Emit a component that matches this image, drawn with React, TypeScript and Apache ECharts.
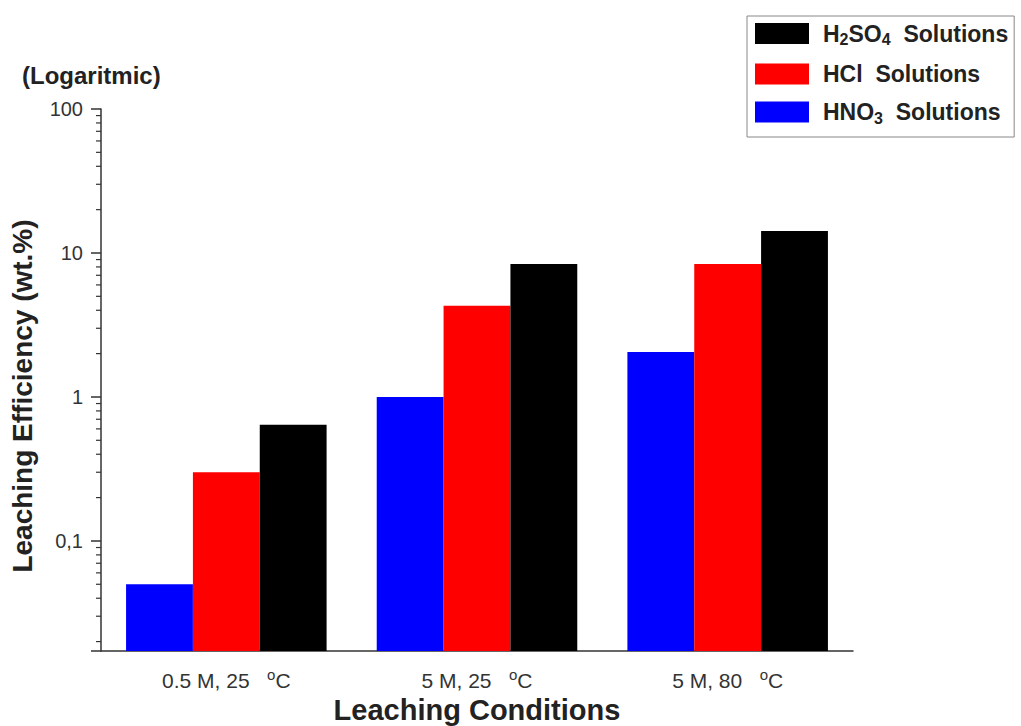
import React, { useEffect, useRef } from "react";
import * as echarts from "echarts";

const categories = ["0.5 M, 25", "5 M, 25", "5 M, 80"];
const hno3Values = [0.05, 1.0, 2.05];
const hclValues = [0.3, 4.3, 8.4];
const h2so4Values = [0.64, 8.4, 14.2];
const yMin = 0.0172;
const yMax = 100;
const majorTickLabels: Record<string, string> = { "100": "100", "10": "10", "1": "1", "0.1": "0,1" };
const minorTickValues = [
  0.02, 0.03, 0.04, 0.05, 0.06, 0.07, 0.08, 0.09,
  0.2, 0.3, 0.4, 0.5, 0.6, 0.7, 0.8, 0.9,
  2, 3, 4, 5, 6, 7, 8, 9,
  20, 30, 40, 50, 60, 70, 80, 90,
];
const seriesNames = ["HNO3 Solutions", "HCl Solutions", "H2SO4 Solutions"];
const legendOrder = ["H2SO4 Solutions", "HCl Solutions", "HNO3 Solutions"];
const legendLabels: Record<string, string> = {
  "H2SO4 Solutions": "H{sub|2}SO{sub|4}  Solutions",
  "HCl Solutions": "HCl  Solutions",
  "HNO3 Solutions": "HNO{sub|3}  Solutions",
};

const FONT = "'Liberation Sans', Arial, sans-serif";

export default function App() {
  const ref = useRef<HTMLDivElement>(null);
  useEffect(() => {
    if (!ref.current) return;
    const chart = echarts.init(ref.current, undefined, { renderer: "svg" });
    const option: any = {
      animation: false,
      backgroundColor: "#fff",
      textStyle: { fontFamily: FONT },
      graphic: [
        {
          type: "text",
          left: 22,
          top: 63,
          style: { text: "(Logaritmic)", font: `bold 24px ${FONT}`, fill: "#222" },
        },
        {
          type: "text",
          x: 22,
          y: 396,
          rotation: Math.PI / 2,
          style: {
            text: "Leaching Efficiency (wt.%)",
            font: `bold 28px ${FONT}`,
            fill: "#222",
            align: "center",
            verticalAlign: "middle",
          },
        },
      ],
      legend: {
        orient: "vertical",
        left: 747,
        top: 16,
        data: legendOrder,
        itemWidth: 54,
        itemHeight: 21,
        itemGap: 15,
        padding: [6, 6, 11, 8],
        borderColor: "#888",
        borderWidth: 1,
        icon: "rect",
        formatter: (name: string) => legendLabels[name],
        textStyle: {
          fontFamily: FONT,
          fontWeight: "bold",
          fontSize: 23,
          color: "#222",
          padding: [0, 0, 0, 9],
          rich: {
            sub: { fontSize: 16, fontWeight: "bold", color: "#222", padding: [12, 0, 0, 0], fontFamily: FONT },
          },
        },
      },
      grid: { left: 101, right: 168, top: 109, bottom: 75, containLabel: false, outerBoundsMode: "none" },
      xAxis: [
        {
          type: "category",
          data: categories,
          name: "Leaching Conditions",
          nameLocation: "middle",
          nameGap: 44,
          nameTextStyle: { fontFamily: FONT, fontWeight: "bold", fontSize: 29, color: "#222" },
          axisLine: { lineStyle: { color: "#333", width: 1.5 } },
          axisTick: { alignWithLabel: true, length: 8, lineStyle: { color: "#333", width: 1.5 } },
          axisLabel: {
            margin: 16,
            fontFamily: FONT,
            fontSize: 21,
            color: "#333",
            formatter: (v: string) => `${v}   {sup|o}C`,
            rich: { sup: { fontSize: 15, color: "#333", padding: [0, 0, 11, 0], fontFamily: FONT } },
          },
        },
        {
          type: "category",
          data: categories,
          position: "bottom",
          axisLine: { show: false },
          axisLabel: { show: false },
          axisTick: { alignWithLabel: false, length: 4, lineStyle: { color: "#333", width: 1.5 } },
        },
      ],
      yAxis: {
        type: "log",
        logBase: 10,
        min: yMin,
        max: yMax,
        startValue: yMin,
        splitLine: { show: false },
        axisLine: { show: true, lineStyle: { color: "#333", width: 1.5 } },
        axisTick: { show: true, length: 10, lineStyle: { color: "#333", width: 1.5 } },
        axisLabel: {
          margin: 18,
          fontFamily: FONT,
          fontSize: 20,
          color: "#333",
          formatter: (v: number) => {
            const key = String(Number(v.toPrecision(6)));
            return majorTickLabels[key] ?? "";
          },
        },
      },
      series: [
        {
          name: seriesNames[0],
          type: "bar",
          data: hno3Values,
          itemStyle: { color: "#0000ff" },
          barGap: "0%",
          barCategoryGap: "20%",
        },
        {
          name: seriesNames[1],
          type: "bar",
          data: hclValues,
          itemStyle: { color: "#ff0000" },
          barGap: "0%",
          barCategoryGap: "20%",
        },
        {
          name: seriesNames[2],
          type: "bar",
          data: h2so4Values,
          itemStyle: { color: "#000000" },
          barGap: "0%",
          barCategoryGap: "20%",
        },
        {
          name: "minorTicks",
          type: "custom",
          silent: true,
          clip: false,
          data: minorTickValues.map((v) => [0, v]),
          encode: { x: 0, y: 1 },
          renderItem: (params: any, api: any) => {
            const y = api.coord([0, api.value(1)])[1];
            const x = params.coordSys.x;
            return {
              type: "line",
              shape: { x1: x - 5, y1: y, x2: x, y2: y },
              style: { stroke: "#333", lineWidth: 1.2 },
            };
          },
        },
      ],
    };
    chart.setOption(option);
    return () => chart.dispose();
  }, []);
  return (
    <div
      ref={ref}
      style={{ position: "fixed", left: 0, top: 0, width: 1021, height: 726 }}
    />
  );
}
